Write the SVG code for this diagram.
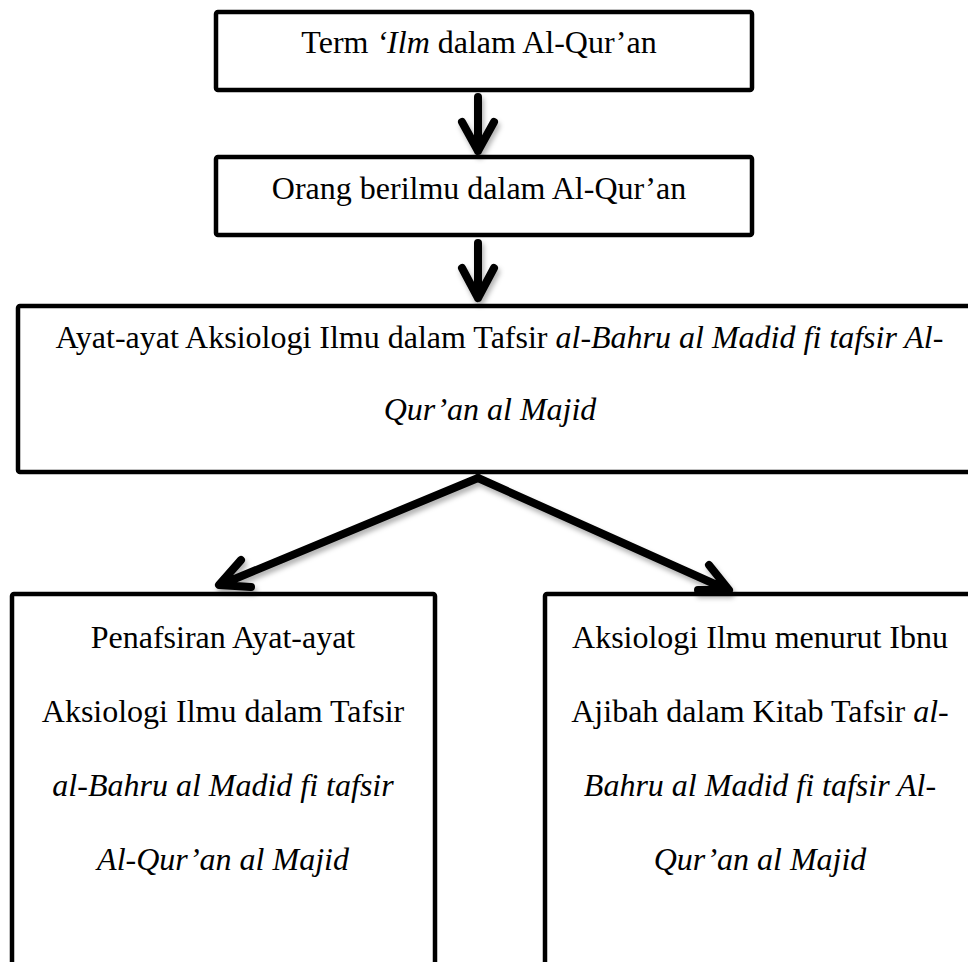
<svg xmlns="http://www.w3.org/2000/svg" width="968" height="962" viewBox="0 0 968 962">
<style>
.box{fill:#fff;stroke:#000;stroke-width:4.5}
.t{font-family:"Liberation Serif","Times New Roman",serif;font-size:32px;fill:#000;text-anchor:middle}
.i{font-style:italic}
.arr{fill:none;stroke:#000;stroke-width:8;stroke-linecap:round;stroke-linejoin:round}
</style>
<defs>
<filter id="sh" x="-20%" y="-20%" width="140%" height="140%">
<feDropShadow dx="2" dy="4" stdDeviation="2.5" flood-color="#000" flood-opacity="0.3"/>
</filter>
</defs>
<rect width="968" height="962" fill="#fff"/>
<g id="n1">
<rect class="box" x="216" y="12" width="536" height="78" rx="2"/>
<text class="t" x="479" y="53">Term <tspan class="i">‘Ilm</tspan> dalam Al-Qur’an</text>
</g>
<g id="n2">
<rect class="box" x="216" y="157" width="536" height="78" rx="2"/>
<text class="t" x="479" y="199">Orang berilmu dalam Al-Qur’an</text>
</g>
<g id="n3">
<rect class="box" x="18" y="306" width="962" height="166" rx="2"/>
<text class="t" x="499.5" y="348">Ayat-ayat Aksiologi Ilmu dalam Tafsir <tspan class="i">al-Bahru al Madid fi tafsir Al-</tspan></text>
<text class="t i" x="490" y="420">Qur’an al Majid</text>
</g>
<g id="n4">
<rect class="box" x="12" y="594" width="423" height="400" rx="2"/>
<text class="t" x="223" y="648">Penafsiran Ayat-ayat</text>
<text class="t" x="223" y="722">Aksiologi Ilmu dalam Tafsir</text>
<text class="t i" x="223" y="796">al-Bahru al Madid fi tafsir</text>
<text class="t i" x="223" y="870">Al-Qur’an al Majid</text>
</g>
<g id="n5">
<rect class="box" x="545" y="594" width="430" height="400" rx="2"/>
<text class="t" x="760" y="648">Aksiologi Ilmu menurut Ibnu</text>
<text class="t" x="760" y="722">Ajibah dalam Kitab Tafsir <tspan class="i">al-</tspan></text>
<text class="t i" x="760" y="796">Bahru al Madid fi tafsir Al-</text>
<text class="t i" x="760" y="870">Qur’an al Majid</text>
</g>
<g id="connectors" filter="url(#sh)">
<path class="arr" d="M478 97 V151 M462 122 L478 151 L494 122"/>
<path class="arr" d="M478 243 V298 M462 268 L478 298 L494 268"/>
<path class="arr" d="M478 478 L220 585 M241 560 L219 585 L251 587"/>
<path class="arr" d="M478 478 L728 590 M709 565 L729 590 L698 590"/>
</g>
</svg>
